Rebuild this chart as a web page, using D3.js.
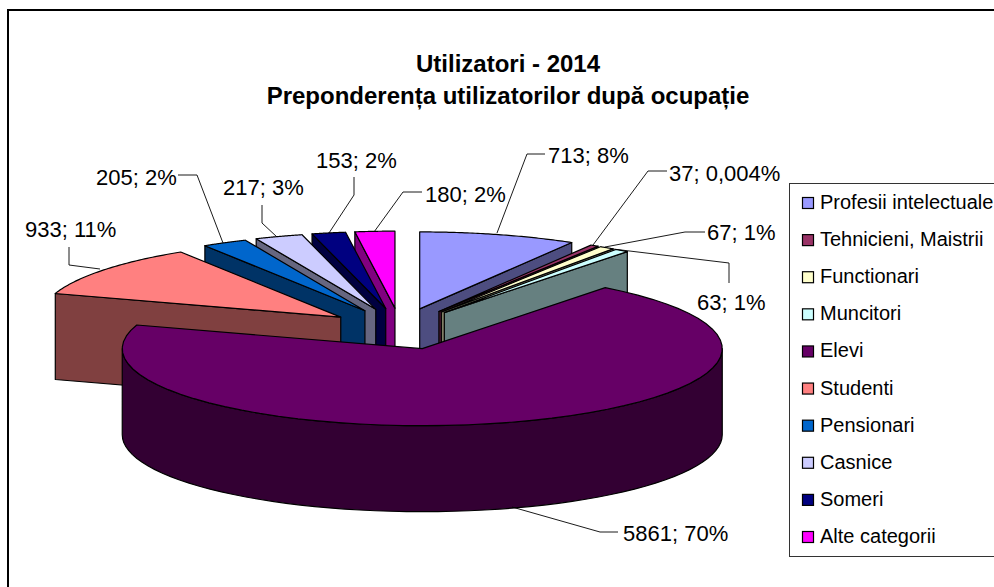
<!DOCTYPE html>
<html lang="ro">
<head>
<meta charset="UTF-8">
<title>Utilizatori - 2014</title>
<style>
    html, body { margin: 0; padding: 0; background: #fff; overflow: hidden; }
    svg { display: block; }
    text { font-family: "Liberation Sans", Arial, sans-serif; fill: #000; }
    .title { font-size: 24px; font-weight: bold; text-anchor: middle; }
    .label { font-size: 22px; }
    .legend-text { font-size: 20px; }
</style>
</head>
<body>
<svg width="994" height="587"></svg>
<script src="https://d3js.org/d3.v7.min.js"></script>
<script>
const categories = ["Profesii intelectuale", "Tehnicieni, Maistrii", "Functionari", "Muncitori", "Elevi", "Studenti", "Pensionari", "Casnice", "Someri", "Alte categorii"];
const values = [713, 37, 67, 63, 5861, 933, 205, 217, 153, 180];
const percents = ["8%", "0,004%", "1%", "1%", "70%", "11%", "2%", "3%", "2%", "2%"];
const colors = ["#9999ff", "#993366", "#ffffcc", "#ccffff", "#660066", "#ff8080", "#0066cc", "#ccccff", "#000080", "#ff00ff"];
const titleLines = ["Utilizatori - 2014", "Preponderența utilizatorilor după ocupație"];
const paintOrder = [9, 8, 7, 6, 5, 0, 1, 2, 3, 4]; // back to front

const svg = d3.select("svg");

// chart frame runs off the right and bottom of the page
svg.append("rect")
    .attr("x", 8).attr("y", 10)
    .attr("width", 1000).attr("height", 600)
    .attr("fill", "#fff").attr("stroke", "#000").attr("stroke-width", 2);

svg.selectAll(".title").data(titleLines).join("text")
    .attr("class", "title")
    .attr("x", 508)
    .attr("y", (d, i) => 72 + i * 32)
    .text(d => d);

// squashed pie: slices are pushed out from the centre, less so towards the viewer
const pieX = 400, pieY = 331.5, explode = 75;
const rx = 300, ry = 77, depth = 86;
const liftBack = 23.4, liftFront = 18;

const arcs = d3.pie().sort(null).value(d => d)(values);

function sliceOrigin(a) {
    const mid = (a.startAngle + a.endAngle) / 2;
    const c = Math.cos(mid);
    return [pieX + explode * Math.sin(mid), pieY - (c < 0 ? liftFront : liftBack) * c];
}

function rim(o, angle, drop) {
    return [o[0] + rx * Math.sin(angle), o[1] + drop - ry * Math.cos(angle)];
}

function rimPoints(o, a0, a1, drop) {
    return d3.range(0, 61).map(i => rim(o, a0 + (a1 - a0) * i / 60, drop));
}

const line = d3.line();
const closed = pts => line(pts) + "Z";

const pieLayer = svg.append("g")
    .attr("stroke", "#000").attr("stroke-width", 1.2).attr("stroke-linejoin", "round");

paintOrder.forEach(i => {
    const a = arcs[i];
    const o = sliceOrigin(a);
    const mid = (a.startAngle + a.endAngle) / 2;
    const top = d3.rgb(colors[i]);
    const wall = d3.rgb(top.r / 2, top.g / 2, top.b / 2).formatHex();
    const g = pieLayer.append("g");

    if (Math.cos(mid) > 0) {
        // back slices only show the radial cut
        const p = rim(o, Math.sin(mid) > 0 ? a.endAngle : a.startAngle, 0);
        g.append("path")
            .attr("d", closed([o, p, [p[0], p[1] + depth], [o[0], o[1] + depth]]))
            .attr("fill", wall);
    } else {
        // round outer wall, left extreme under to right extreme
        const upper = rimPoints(o, Math.PI * 1.5, Math.PI / 2, 0);
        const lower = rimPoints(o, Math.PI / 2, Math.PI * 1.5, depth);
        g.append("path").attr("d", closed(upper.concat(lower))).attr("fill", wall);
    }

    g.append("path")
        .attr("d", closed([o].concat(rimPoints(o, a.startAngle, a.endAngle, 0))))
        .attr("fill", colors[i]);
});

// data labels and their leader lines
const labelText = values.map((v, i) => v + "; " + percents[i]);
const labelAnchors = [[548, 163], [669, 181], [707, 240], [697, 310], [623, 541], [25, 237], [96, 185], [223, 195], [316, 168], [425, 202]];
const leaders = [
    [[497, 233], [527, 154], [545, 154]],
    [[593, 245], [648, 171], [667, 171]],
    [[605, 247], [685, 232], [705, 232]],
    [[613, 249], [729, 263], [729, 283]],
    [[512, 507], [600, 532], [618, 532]],
    [[100, 269], [69, 265], [69, 247]],
    [[223, 243], [197, 175], [178, 175]],
    [[277, 237], [262, 223], [262, 205]],
    [[329, 233], [354, 195], [354, 177]],
    [[374, 232], [403, 192], [422, 192]]
];

const labels = svg.append("g");
labels.selectAll("path").data(leaders).join("path")
    .attr("d", d => line(d))
    .attr("fill", "none").attr("stroke", "#000").attr("stroke-width", 0.9);
labels.selectAll("text").data(labelText).join("text")
    .attr("class", "label")
    .attr("x", (d, i) => labelAnchors[i][0])
    .attr("y", (d, i) => labelAnchors[i][1])
    .text(d => d);

// legend
const legendY = d3.scalePoint().domain(categories).range([203, 537]);
const legend = svg.append("g");
legend.append("rect")
    .attr("x", 789.5).attr("y", 183.5).attr("width", 220).attr("height", 373)
    .attr("fill", "#fff").attr("stroke", "#333").attr("stroke-width", 1);
const item = legend.selectAll(".item").data(categories).join("g").attr("class", "item");
item.append("rect")
    .attr("x", 802.5).attr("y", d => legendY(d) - 5.5)
    .attr("width", 11).attr("height", 11)
    .attr("fill", (d, i) => colors[i]).attr("stroke", "#000").attr("stroke-width", 1.2);
item.append("text")
    .attr("class", "legend-text")
    .attr("x", 820).attr("y", d => legendY(d) + 6)
    .text(d => d);
</script>
</body>
</html>
